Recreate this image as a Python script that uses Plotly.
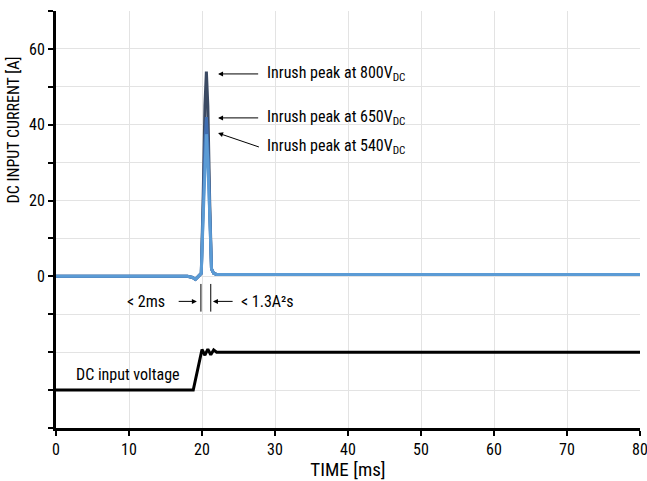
import plotly.graph_objects as go

# ---- data ----
t_current = [0, 18.0, 18.7, 19.1, 19.5, 19.9, 20.15, 20.4, 20.6, 20.8, 21.05, 21.3, 21.6, 22.0, 40, 60, 80]
i_800 = [0, 0, -0.3, -0.8, 0, 0.8, 20, 45, 54, 45, 20, 2, 0.8, 0.5, 0.5, 0.5, 0.5]
i_650 = [0, 0, -0.3, -0.8, 0, 0.8, 17, 35, 42, 35, 17, 2, 0.8, 0.5, 0.5, 0.5, 0.5]
i_540 = [0, 0, -0.3, -0.8, 0, 0.8, 15, 31, 37.5, 31, 15, 2, 0.8, 0.5, 0.5, 0.5, 0.5]

t_voltage = [0, 18.8, 20.0, 20.4, 20.8, 21.2, 21.6, 22.0, 80]
v_dc = [-30, -30, -19.3, -20.8, -19.2, -20.7, -19.4, -20, -20]

x_ticks = [0, 10, 20, 30, 40, 50, 60, 70, 80]
y_ticks = [-40, -30, -20, -10, 0, 10, 20, 30, 40, 50, 60, 70]
y_ticktext = ["", "", "", "", "0", "", "20", "", "40", "", "60", ""]

FONT = "Liberation Sans Narrow, Arial Narrow, Roboto Condensed, Liberation Sans, sans-serif"
FS = 16

fig = go.Figure()
fig.add_trace(go.Scatter(x=t_voltage, y=v_dc, mode="lines",
                         line=dict(color="black", width=3), showlegend=False))
fig.add_trace(go.Scatter(x=t_current, y=i_800, mode="lines",
                         line=dict(color="#3b4a63", width=3), showlegend=False))
fig.add_trace(go.Scatter(x=t_current, y=i_650, mode="lines",
                         line=dict(color="#3f6db0", width=3), showlegend=False))
fig.add_trace(go.Scatter(x=t_current, y=i_540, mode="lines",
                         line=dict(color="#5b9bd5", width=3), showlegend=False))

ann = []
def arrow(x, y, ax, ay):
    ann.append(dict(x=x, y=y, ax=ax, ay=ay, xref="x", yref="y", axref="x", ayref="y",
                    text="", showarrow=True, arrowhead=2, arrowsize=1, arrowwidth=1,
                    arrowcolor="black"))
def label(x, y, text, anchor="left"):
    ann.append(dict(x=x, y=y, xref="x", yref="y", text=text, showarrow=False,
                    xanchor=anchor, yanchor="middle",
                    font=dict(family=FONT, size=FS, color="black")))

# peak labels
arrow(22.2, 53.4, 27.9, 53.4)
label(28.6, 53.4, "Inrush peak at 800V<sub>DC</sub>")
arrow(22.2, 41.8, 27.9, 41.8)
label(28.6, 41.8, "Inrush peak at 650V<sub>DC</sub>")
arrow(22.2, 37.8, 28.0, 34.0)
label(28.6, 34.2, "Inrush peak at 540V<sub>DC</sub>")

# timing markers
label(12.3, -6.6, "&lt; 2ms", anchor="center")
arrow(19.3, -6.6, 16.6, -6.6)
arrow(21.5, -6.6, 24.4, -6.6)
label(25.0, -6.6, "&lt; 1.3A²s")
label(2.4, -26.0, "DC input voltage")

# y title
ann.append(dict(x=(13 - 56) / 584.0, y=38.5, xref="paper", yref="y",
                text="DC INPUT CURRENT [A]",
                textangle=-90, showarrow=False, xanchor="center", yanchor="middle",
                font=dict(family=FONT, size=FS, color="black")))

shapes = [
    dict(type="line", xref="x", yref="y", x0=19.85, x1=19.85, y0=-2.0, y1=-9.3,
         line=dict(color="black", width=1)),
    dict(type="line", xref="x", yref="y", x0=21.2, x1=21.2, y0=-2.0, y1=-9.3,
         line=dict(color="black", width=1)),
]

fig.update_layout(
    width=647, height=481,
    margin=dict(l=56, r=7, t=11, b=53),
    plot_bgcolor="white", paper_bgcolor="white",
    font=dict(family=FONT, size=FS, color="black"),
    annotations=ann, shapes=shapes,
    xaxis=dict(range=[0, 80], tickvals=x_ticks, showgrid=True, gridcolor="#e3e3e3",
               gridwidth=1, zeroline=False, showline=True, linecolor="black", linewidth=3,
               ticks="outside", ticklen=5, tickwidth=2, tickcolor="black", automargin=False,
               ticklabeloverflow="allow",
               title=dict(text="TIME [ms]", standoff=2),
               tickfont=dict(family=FONT, size=FS)),
    yaxis=dict(range=[-40, 70], tickvals=y_ticks, ticktext=y_ticktext, showgrid=True,
               gridcolor="#e3e3e3", gridwidth=1, zeroline=False, showline=True,
               linecolor="black", linewidth=3, ticks="outside", ticklen=5, tickwidth=2,
               automargin=False, ticklabeloverflow="allow",
               tickcolor="black", tickfont=dict(family=FONT, size=FS)),
)

fig.write_html("out.html", config={"displayModeBar": False},
               post_script="document.body.style.margin='0px';document.body.style.overflow='hidden';")
